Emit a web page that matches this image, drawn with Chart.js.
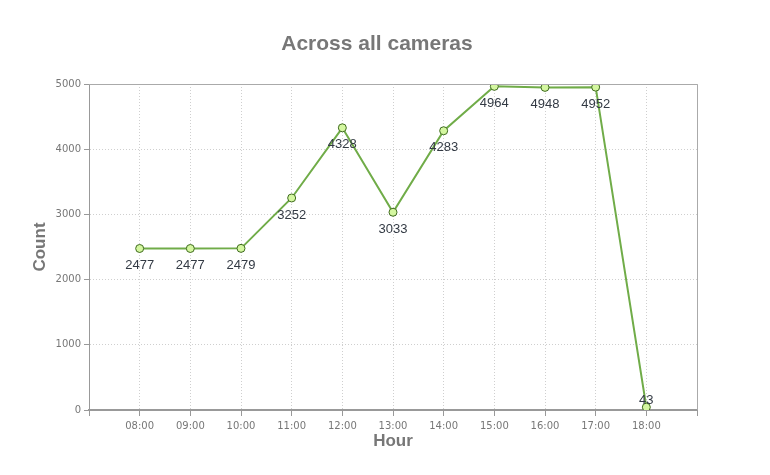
<!DOCTYPE html>
<html>
<head>
<meta charset="utf-8">
<script src="https://cdn.jsdelivr.net/npm/chart.js@4"></script>
<style>
  html, body { margin: 0; padding: 0; background: #fff; }
  #wrap { width: 770px; height: 475px; }
</style>
</head>
<body>
<div id="wrap"><canvas id="countChart" width="770" height="475"></canvas></div>
<script>
// --- Data ---
const hours = ['08:00', '09:00', '10:00', '11:00', '12:00', '13:00', '14:00', '15:00', '16:00', '17:00', '18:00'];
const counts = [2477, 2477, 2479, 3252, 4328, 3033, 4283, 4964, 4948, 4952, 43];
const yTicks = [0, 1000, 2000, 3000, 4000, 5000];
const chartTitle = 'Across all cameras';

// empty slot on each side, like the original axis
const labels = [''].concat(hours, ['']);
const values = [null].concat(counts, [null]);

// title, box round the plot, value labels under the points
const extras = {
  id: 'extras',
  afterDatasetsDraw(chart) {
    const ctx = chart.ctx;
    const a = chart.chartArea;
    ctx.save();
    ctx.strokeStyle = '#aaaaaa';
    ctx.lineWidth = 1;
    ctx.beginPath();
    ctx.moveTo(a.left, a.top + 0.5);
    ctx.lineTo(a.right + 0.5, a.top + 0.5);
    ctx.lineTo(a.right + 0.5, a.bottom);
    ctx.stroke();

    ctx.font = 'bold 21px "Liberation Sans", Arial, sans-serif';
    ctx.fillStyle = '#777777';
    ctx.textAlign = 'center';
    ctx.textBaseline = 'middle';
    ctx.fillText(chartTitle, 377, 44);

    ctx.font = '13px "Liberation Sans", Arial, sans-serif';
    ctx.fillStyle = '#333a44';
    chart.getDatasetMeta(0).data.forEach((pt, i) => {
      const v = values[i];
      if (v === null) return;
      let y = pt.y + 17;
      if (y > a.bottom - 6) y = pt.y - 7;
      ctx.fillText(String(v), pt.x, y);
    });
    ctx.restore();
  }
};

const ctx = document.getElementById('countChart').getContext('2d');
new Chart(ctx, {
  type: 'line',
  data: {
    labels: labels,
    datasets: [{
      data: values,
      borderColor: '#70ac48',
      borderWidth: 2,
      pointRadius: 4,
      pointBackgroundColor: '#d4f7a0',
      pointBorderColor: '#3f6b1f',
      pointBorderWidth: 1,
      tension: 0
    }]
  },
  options: {
    responsive: false,
    animation: false,
    layout: { padding: { left: 30, right: 73, top: 84, bottom: 23 } },
    plugins: {
      legend: { display: false },
      tooltip: { enabled: false },
      title: { display: false }
    },
    scales: {
      x: {
        offset: false,
        grid: {
          color: '#cfcfcf',
          tickColor: '#999999',
          tickLength: 6
        },
        border: { color: '#999999', width: 2, dash: [1, 2] },
        ticks: {
          color: '#777777',
          font: { family: '"DejaVu Sans", sans-serif', size: 10 },
          padding: 4,
          maxRotation: 0,
          autoSkip: false
        },
        title: {
          display: true,
          text: 'Hour',
          color: '#777777',
          font: { family: '"Liberation Sans", Arial, sans-serif', size: 17, weight: 'bold' },
          padding: { top: 0, bottom: 0 }
        },
        afterFit(scale) { scale.height = 42; }
      },
      y: {
        min: 0,
        max: 5000,
        afterBuildTicks(scale) { scale.ticks = yTicks.map(v => ({ value: v })); },
        grid: {
          color: '#cfcfcf',
          tickColor: '#999999',
          tickLength: 5
        },
        border: { color: '#999999', width: 1, dash: [1, 2] },
        ticks: {
          color: '#777777',
          font: { family: '"DejaVu Sans", sans-serif', size: 10 },
          padding: 3,
          callback: v => String(v)
        },
        title: {
          display: true,
          text: 'Count',
          color: '#777777',
          font: { family: '"Liberation Sans", Arial, sans-serif', size: 17, weight: 'bold' },
          padding: { top: 0, bottom: 0 }
        },
        afterFit(scale) { scale.width = 59; }
      }
    }
  },
  plugins: [extras]
});
</script>
</body>
</html>
